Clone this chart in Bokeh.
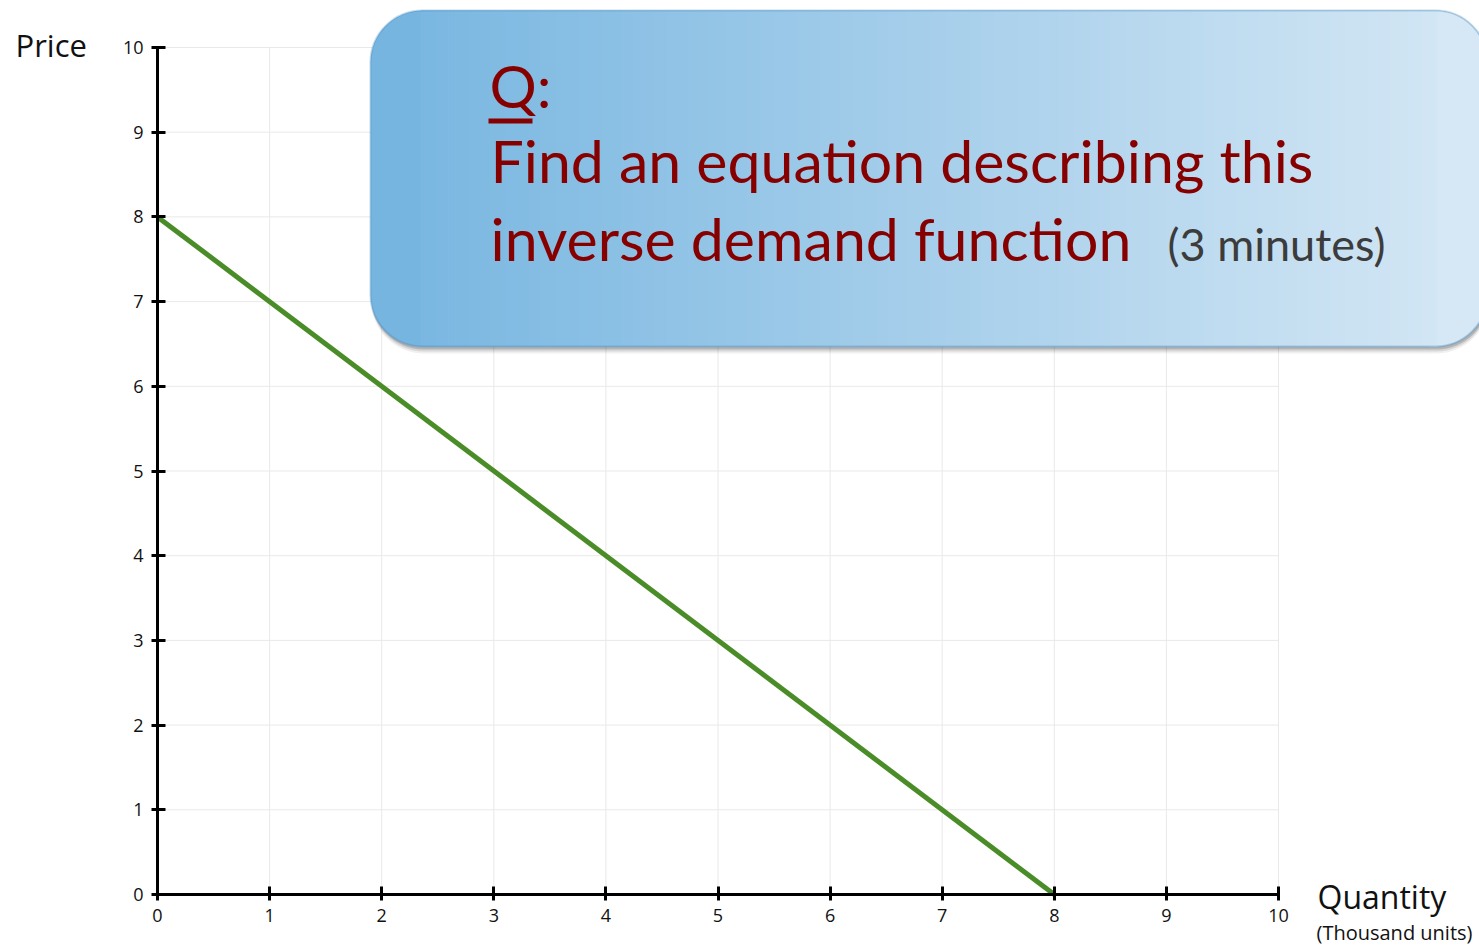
from bokeh.plotting import figure
from bokeh.models import (Range1d, LinearAxis, FixedTicker, Label, BoxAnnotation)
from bokeh.embed import file_html
from bokeh.resources import INLINE

# Inverse demand curve: price falls from 8 at zero quantity to 0 at 8 thousand units
quantity = [0, 8]
price = [8, 0]

x_ticks = [0, 1, 2, 3, 4, 5, 6, 7, 8, 9, 10]
y_ticks = [0, 1, 2, 3, 4, 5, 6, 7, 8, 9, 10]

W, H = 1479, 946
# pixel position of the plotting area corners (origin and the (10, 10) point)
PX0, PX1 = 157, 1278
PY0, PY1 = 894, 47
sx = (PX1 - PX0) / 10.0
sy = (PY0 - PY1) / 10.0

x_lo, x_hi = -PX0 / sx, (W - PX0) / sx
y_lo, y_hi = -(H - PY0) / sy, PY0 / sy


def dx(px):
    return (px - PX0) / sx


def dy(py):
    return (PY0 - py) / sy


p = figure(width=W, height=H, output_backend="svg", toolbar_location=None,
           x_range=Range1d(x_lo, x_hi), y_range=Range1d(y_lo, y_hi),
           x_axis_location=None, y_axis_location=None,
           min_border=0, min_border_left=0, min_border_right=0,
           min_border_top=0, min_border_bottom=0)
p.outline_line_color = None
p.xgrid.visible = False
p.ygrid.visible = False
p.background_fill_color = "white"
p.border_fill_color = "white"

# light grid within the 0..10 square
gx = x_ticks[1:]
p.segment(x0=gx, x1=gx, y0=[0] * len(gx), y1=[10] * len(gx),
          line_color="#e9e9e9", line_width=1)
gy = y_ticks[1:]
p.segment(x0=[0] * len(gy), x1=[10] * len(gy), y0=gy, y1=gy,
          line_color="#e9e9e9", line_width=1)

# demand line
p.line(quantity, price, line_color="#4a8d28", line_width=5)

tick_font = "Open Sans"


def style_axis(ax):
    ax.fixed_location = 0
    ax.bounds = (0, 10)
    ax.axis_line_color = "black"
    ax.axis_line_width = 3
    ax.major_tick_line_color = "black"
    ax.major_tick_line_width = 3
    ax.major_tick_in = 8
    ax.major_tick_out = 6
    ax.minor_tick_line_color = None
    ax.major_label_text_font = tick_font
    ax.major_label_text_font_size = "18px"
    ax.major_label_text_color = "#111111"
    ax.major_label_standoff = 8


xaxis = LinearAxis(ticker=FixedTicker(ticks=x_ticks))
style_axis(xaxis)
p.add_layout(xaxis, "below")

yaxis = LinearAxis(ticker=FixedTicker(ticks=y_ticks))
style_axis(yaxis)
p.add_layout(yaxis, "left")


def text_at(px, baseline_py, text, font, size, color):
    # place a text so that its baseline sits at the given pixel row
    p.add_layout(Label(x=dx(px), y=dy(baseline_py - 0.43 * size), text=text,
                       text_font=font, text_font_size=f"{size}px", text_color=color,
                       text_baseline="alphabetic", text_align="left"))


# axis titles
text_at(15, 58, "Price", tick_font, 31, "#111111")
text_at(1317, 910, "Quantity", tick_font, 32, "#111111")
text_at(1316, 941, "(Thousand units)", tick_font, 20, "#111111")

# question callout: rounded box with a horizontal blue gradient
BL, BR, BT, BB, RAD = 370, 1487, 10, 346, 52

for off, alpha in [(7, 0.06), (5, 0.10), (3, 0.16)]:
    p.add_layout(BoxAnnotation(left=dx(BL + 1), right=dx(BR + 1), top=dy(BT + off), bottom=dy(BB + off),
                               fill_color="black", fill_alpha=alpha, line_color=None,
                               border_radius=RAD))

c_left = (118, 181, 224)
c_right = (214, 232, 245)


def mix(t):
    r = [round(a + (b - a) * t) for a, b in zip(c_left, c_right)]
    return "#%02x%02x%02x" % tuple(r)


p.add_layout(BoxAnnotation(left=dx(BL), right=dx(BR), top=dy(BT), bottom=dy(BB),
                           fill_color=mix(0.0), fill_alpha=1, line_color=None,
                           border_radius=RAD))
p.add_layout(BoxAnnotation(left=dx(BR - 2 * RAD), right=dx(BR), top=dy(BT), bottom=dy(BB),
                           fill_color=mix(1.0), fill_alpha=1, line_color=None,
                           border_radius=RAD))
step = 3
xs = list(range(BL + RAD - 2, BR - RAD + 2, step))
for x0 in xs:
    t = (x0 + step / 2 - BL) / (BR - BL)
    p.add_layout(BoxAnnotation(left=dx(x0), right=dx(x0 + step + 0.6), top=dy(BT), bottom=dy(BB),
                               fill_color=mix(t), fill_alpha=1, line_color=None))
p.add_layout(BoxAnnotation(left=dx(BL), right=dx(BR), top=dy(BT), bottom=dy(BB),
                           fill_color=None, line_color="#3a82b8", line_width=2,
                           border_radius=RAD))

q_font = "Lato"
q_color = "#870000"
text_at(489, 110, "Q:", q_font, 59, q_color)
# underline beneath the Q
p.add_layout(BoxAnnotation(left=dx(488), right=dx(532), top=dy(118), bottom=dy(123),
                           fill_color=q_color, fill_alpha=1, line_color=None))
text_at(490, 185, "Find an equation describing this", q_font, 59, q_color)
text_at(490, 263, "inverse demand function", q_font, 59, q_color)
text_at(1167, 263, "(3 minutes)", q_font, 45, "#3c3c3c")

open("out.html", "w").write(file_html(p, INLINE))
